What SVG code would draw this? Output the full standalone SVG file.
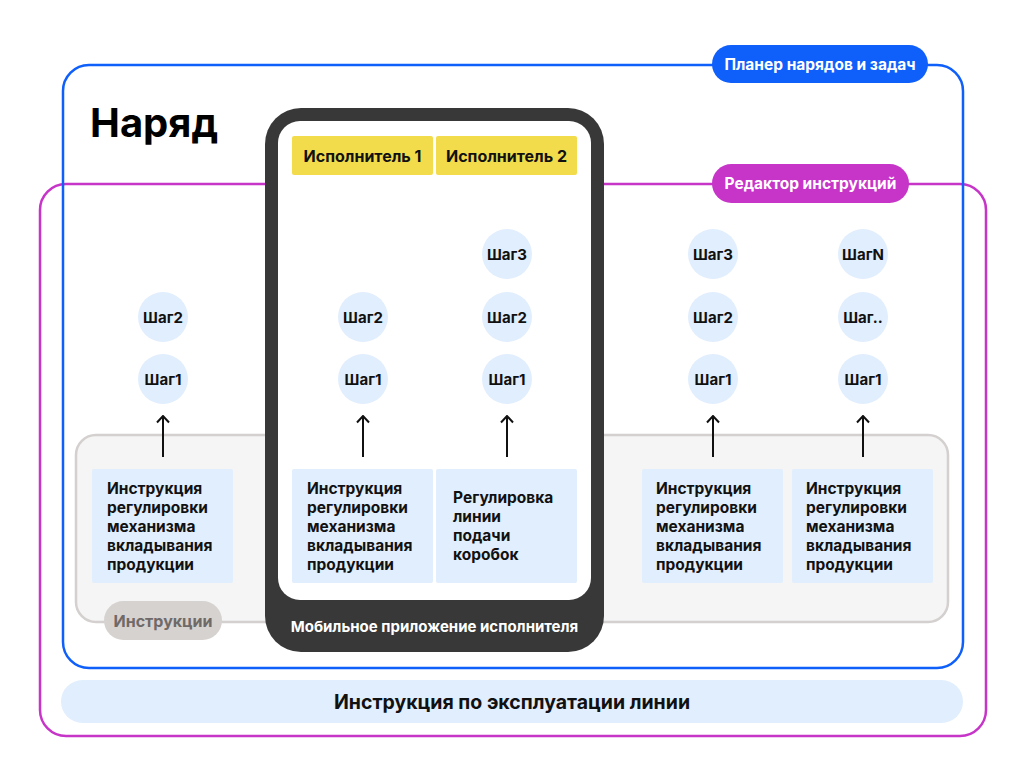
<svg xmlns="http://www.w3.org/2000/svg" width="1024" height="768" viewBox="0 0 1024 768">
<defs>
<style>
text{font-family:"Inter","Liberation Sans",sans-serif;font-weight:700}
.step{fill:#E1EEFD}
.stept{font-size:15px;fill:#111;text-anchor:middle;dominant-baseline:central}
.ibox{fill:#E1EEFD}
.it{font-size:15.5px;fill:#111}
.hdr{fill:#F2DC4B}
.hdrt{font-size:16px;fill:#111;text-anchor:middle;dominant-baseline:central}
.arr{stroke:#111;stroke-width:2;fill:none}
</style>
<marker id="ah" viewBox="0 0 9 14" refX="7.5" refY="7" markerWidth="9" markerHeight="14" markerUnits="userSpaceOnUse" orient="auto">
<path d="M1,1 L7.5,7 L1,13" fill="none" stroke="#111" stroke-width="2"/>
</marker>
</defs>
<rect width="1024" height="768" fill="#fff"/>

<g id="editor-frame">
<rect x="40" y="184" width="946" height="552" rx="26" fill="none" stroke="#C634C8" stroke-width="2.5"/>
</g>
<g id="planner-frame">
<rect x="63" y="65" width="900" height="603" rx="26" fill="none" stroke="#0F5FFB" stroke-width="2.5"/>
</g>
<text x="90" y="137" font-size="40" fill="#000">Наряд</text>

<g id="instructions-group">
<rect x="76" y="435" width="872" height="187" rx="20" fill="#F5F5F5" stroke="#D4D0CF" stroke-width="2.5"/>
</g>

<g id="phone">
<rect x="265" y="108" width="339" height="544" rx="36" fill="#383838"/>
<rect x="278" y="121" width="313" height="479" rx="22" fill="#fff"/>
<text x="434.5" y="626" font-size="15" fill="#fff" text-anchor="middle" dominant-baseline="central">Мобильное приложение исполнителя</text>
</g>

<g id="executor1"><rect class="hdr" x="292" y="136" width="141" height="39" rx="2"/><text class="hdrt" x="362.5" y="155.5">Исполнитель 1</text></g>
<g id="executor2"><rect class="hdr" x="436" y="136" width="141" height="39" rx="2"/><text class="hdrt" x="506.5" y="155.5">Исполнитель 2</text></g>

<g id="planner-label"><rect x="712" y="45" width="216" height="38" rx="19" fill="#0F5FFB"/><text x="820" y="64" font-size="15.5" fill="#fff" text-anchor="middle" dominant-baseline="central">Планер нарядов и задач</text></g>
<g id="editor-label"><rect x="712" y="164" width="197" height="39" rx="19.5" fill="#C634C8"/><text x="810.5" y="183.5" font-size="15.5" fill="#fff" text-anchor="middle" dominant-baseline="central">Редактор инструкций</text></g>
<g id="instructions-label"><rect x="104" y="601" width="118" height="39" rx="19.5" fill="#D6D2D0"/><text x="163" y="620.5" font-size="16" fill="#6F6A68" text-anchor="middle" dominant-baseline="central">Инструкции</text></g>

<g id="steps-col1">
<circle class="step" cx="163" cy="317" r="25"/><text class="stept" x="163" y="317">Шаг2</text>
<circle class="step" cx="163" cy="379" r="25"/><text class="stept" x="163" y="379">Шаг1</text>
</g>
<g id="steps-col2">
<circle class="step" cx="363" cy="317" r="25"/><text class="stept" x="363" y="317">Шаг2</text>
<circle class="step" cx="363" cy="379" r="25"/><text class="stept" x="363" y="379">Шаг1</text>
</g>
<g id="steps-col3">
<circle class="step" cx="507" cy="254" r="25"/><text class="stept" x="507" y="254">Шаг3</text>
<circle class="step" cx="507" cy="317" r="25"/><text class="stept" x="507" y="317">Шаг2</text>
<circle class="step" cx="507" cy="379" r="25"/><text class="stept" x="507" y="379">Шаг1</text>
</g>
<g id="steps-col4">
<circle class="step" cx="713" cy="254" r="25"/><text class="stept" x="713" y="254">Шаг3</text>
<circle class="step" cx="713" cy="317" r="25"/><text class="stept" x="713" y="317">Шаг2</text>
<circle class="step" cx="713" cy="379" r="25"/><text class="stept" x="713" y="379">Шаг1</text>
</g>
<g id="steps-col5">
<circle class="step" cx="863" cy="254" r="25"/><text class="stept" x="863" y="254">ШагN</text>
<circle class="step" cx="863" cy="317" r="25"/><text class="stept" x="863" y="317">Шаг..</text>
<circle class="step" cx="863" cy="379" r="25"/><text class="stept" x="863" y="379">Шаг1</text>
</g>

<g id="instr1"><rect class="ibox" x="92" y="469" width="141" height="114" rx="2"/>
<text class="it" x="107" y="494"><tspan x="107">Инструкция</tspan><tspan x="107" dy="19">регулировки</tspan><tspan x="107" dy="19">механизма</tspan><tspan x="107" dy="19">вкладывания</tspan><tspan x="107" dy="19">продукции</tspan></text></g>
<g id="instr2"><rect class="ibox" x="292" y="469" width="141" height="114" rx="2"/>
<text class="it" x="307" y="494"><tspan x="307">Инструкция</tspan><tspan x="307" dy="19">регулировки</tspan><tspan x="307" dy="19">механизма</tspan><tspan x="307" dy="19">вкладывания</tspan><tspan x="307" dy="19">продукции</tspan></text></g>
<g id="instr3"><rect class="ibox" x="436" y="469" width="141" height="114" rx="2"/>
<text class="it" x="453" y="503"><tspan x="453">Регулировка</tspan><tspan x="453" dy="19">линии</tspan><tspan x="453" dy="19">подачи</tspan><tspan x="453" dy="19">коробок</tspan></text></g>
<g id="instr4"><rect class="ibox" x="642" y="469" width="141" height="114" rx="2"/>
<text class="it" x="656" y="494"><tspan x="656">Инструкция</tspan><tspan x="656" dy="19">регулировки</tspan><tspan x="656" dy="19">механизма</tspan><tspan x="656" dy="19">вкладывания</tspan><tspan x="656" dy="19">продукции</tspan></text></g>
<g id="instr5"><rect class="ibox" x="792" y="469" width="141" height="114" rx="2"/>
<text class="it" x="806" y="494"><tspan x="806">Инструкция</tspan><tspan x="806" dy="19">регулировки</tspan><tspan x="806" dy="19">механизма</tspan><tspan x="806" dy="19">вкладывания</tspan><tspan x="806" dy="19">продукции</tspan></text></g>

<g id="connectors">
<line class="arr" x1="163" y1="457" x2="163" y2="416" marker-end="url(#ah)"/>
<line class="arr" x1="363" y1="457" x2="363" y2="416" marker-end="url(#ah)"/>
<line class="arr" x1="507" y1="457" x2="507" y2="416" marker-end="url(#ah)"/>
<line class="arr" x1="713" y1="457" x2="713" y2="416" marker-end="url(#ah)"/>
<line class="arr" x1="863" y1="457" x2="863" y2="416" marker-end="url(#ah)"/>
</g>

<g id="manual"><rect x="61" y="680" width="902" height="43" rx="21.5" fill="#E1EEFD"/><text x="512" y="701.5" font-size="19.5" fill="#111" text-anchor="middle" dominant-baseline="central">Инструкция по эксплуатации линии</text></g>
</svg>
